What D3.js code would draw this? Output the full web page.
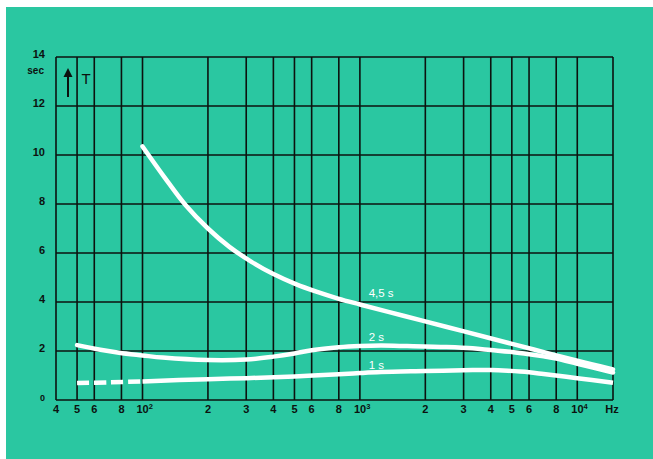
<!DOCTYPE html>
<html>
<head>
<meta charset="utf-8">
<script src="https://cdn.jsdelivr.net/npm/d3@7"></script>
<style>
  html, body { margin: 0; padding: 0; background: #ffffff; }
  svg { display: block; }
</style>
</head>
<body>
<svg id="chart" width="653" height="459"></svg>
<script>
// ---- data ----
const yTickValues = [0, 2, 4, 6, 8, 10, 12, 14];
const yTickLabels = ["0", "2", "4", "6", "8", "10", "12", "14"];
const xTickValues = [40, 50, 60, 80, 100, 200, 300, 400, 500, 600, 800, 1000, 2000, 3000, 4000, 5000, 6000, 8000, 10000];
const xTickLabels = ["4", "5", "6", "8", "10|2", "2", "3", "4", "5", "6", "8", "10|3", "2", "3", "4", "5", "6", "8", "10|4"];
const xUnit = "Hz";
const yUnit = "sec";
const yName = "T";

const freq45 = [100, 126, 158, 200, 251, 316, 398, 501, 631, 794, 1000, 1585, 2512, 3981, 6310, 10000, 14600];
const t45    = [10.35, 9.1, 7.95, 7.0, 6.25, 5.65, 5.15, 4.75, 4.42, 4.14, 3.9, 3.44, 2.98, 2.52, 2.06, 1.6, 1.25];

const freq2 = [50, 64, 78, 100, 124, 200, 300, 400, 500, 600, 800, 1000, 1250, 1650, 2500, 3300, 4000, 5000, 6000, 7000, 8000, 10000, 14600];
const t2    = [2.24, 2.05, 1.93, 1.82, 1.73, 1.63, 1.65, 1.77, 1.9, 2.03, 2.15, 2.2, 2.22, 2.2, 2.16, 2.11, 2.04, 1.96, 1.87, 1.78, 1.69, 1.48, 1.12];

const freq1dash = [50, 70, 100];
const t1dash    = [0.69, 0.72, 0.76];
const freq1 = [100, 200, 300, 500, 800, 1000, 1250, 2000, 3300, 4000, 4800, 6000, 7000, 10000, 14600];
const t1    = [0.76, 0.85, 0.89, 0.96, 1.05, 1.1, 1.14, 1.18, 1.22, 1.22, 1.19, 1.13, 1.06, 0.89, 0.7];

const curveLabels = ["4,5 s", "2 s", "1 s"];
const curveLabelFreq = 1030;
const curveLabelT = [4.2, 2.4, 1.25];

// ---- layout ----
const W = 653, H = 459;
const svg = d3.select("#chart");
const green = "#2ac7a1";
const ink = "#0c120f";

svg.append("rect").attr("x", 0).attr("y", 0).attr("width", W).attr("height", H).attr("fill", "#ffffff");
svg.append("rect").attr("x", 6).attr("y", 7).attr("width", W - 6).attr("height", H - 7).attr("fill", green);

const x = d3.scaleLog().domain([40, 14600]).range([56, 613]);
const y = d3.scaleLinear().domain([0, 14]).range([400, 57]);

// grid
const grid = svg.append("g").attr("stroke", ink).attr("stroke-width", 1.6).attr("fill", "none");
grid.selectAll("line.v").data(xTickValues.concat([14600])).join("line")
  .attr("x1", d => x(d)).attr("x2", d => x(d))
  .attr("y1", y(0)).attr("y2", y(14));
grid.selectAll("line.h").data(yTickValues).join("line")
  .attr("x1", x(40)).attr("x2", x(14600))
  .attr("y1", d => y(d)).attr("y2", d => y(d));

// y labels
const font = "'Liberation Sans', Arial, sans-serif";
svg.append("g").selectAll("text").data(yTickValues).join("text")
  .attr("x", 45).attr("y", d => y(d) + 1)
  .attr("text-anchor", "end")
  .attr("font-family", font).attr("font-weight", "bold")
  .attr("font-size", (d, i) => yTickLabels[i] === "0" ? 9 : 11)
  .attr("fill", ink)
  .text((d, i) => yTickLabels[i]);

svg.append("text").attr("x", 44).attr("y", 74).attr("text-anchor", "end")
  .attr("font-family", font).attr("font-weight", "bold").attr("font-size", 10)
  .attr("fill", ink).text(yUnit);

// arrow + T
svg.append("line").attr("x1", 68).attr("x2", 68).attr("y1", 97).attr("y2", 74)
  .attr("stroke", ink).attr("stroke-width", 2);
svg.append("path").attr("d", "M68,68 L63.5,77 L72.5,77 Z").attr("fill", ink);
svg.append("text").attr("x", 86).attr("y", 84).attr("text-anchor", "middle")
  .attr("font-family", font).attr("font-size", 15).attr("fill", ink).text(yName);

// x labels
const xl = svg.append("g").attr("font-family", font).attr("font-weight", "bold")
  .attr("font-size", 11).attr("fill", ink);
xTickValues.forEach((v, i) => {
  const lab = xTickLabels[i];
  if (lab.includes("|")) {
    const [base, exp] = lab.split("|");
    const t = xl.append("text").attr("x", x(v) - 6).attr("y", 413).attr("text-anchor", "start");
    t.append("tspan").text(base);
    t.append("tspan").attr("dy", -4).attr("font-size", 7.5).text(exp);
  } else {
    xl.append("text").attr("x", x(v)).attr("y", 413).attr("text-anchor", "middle").text(lab);
  }
});
xl.append("text").attr("x", 612).attr("y", 413).attr("text-anchor", "middle").text(xUnit);

// curves
const line = d3.line().x(d => x(d[0])).y(d => y(d[1])).curve(d3.curveCatmullRom.alpha(0.5));
const curves = svg.append("g").attr("fill", "none").attr("stroke", "#ffffff")
  .attr("stroke-width", 4.5);

curves.append("path").attr("d", line(d3.zip(freq45, t45))).attr("stroke-linecap", "round");
curves.append("path").attr("d", line(d3.zip(freq2, t2))).attr("stroke-linecap", "round");
curves.append("path").attr("d", line(d3.zip(freq1, t1)));
curves.append("path").attr("d", line(d3.zip(freq1dash, t1dash))).attr("stroke-dasharray", "12,5");

// curve labels
svg.append("g").selectAll("text").data(curveLabels).join("text")
  .attr("x", x(curveLabelFreq) + 6)
  .attr("y", (d, i) => y(curveLabelT[i]))
  .attr("font-family", font).attr("font-size", 11.5).attr("fill", "#ffffff")
  .text(d => d);
</script>
</body>
</html>
